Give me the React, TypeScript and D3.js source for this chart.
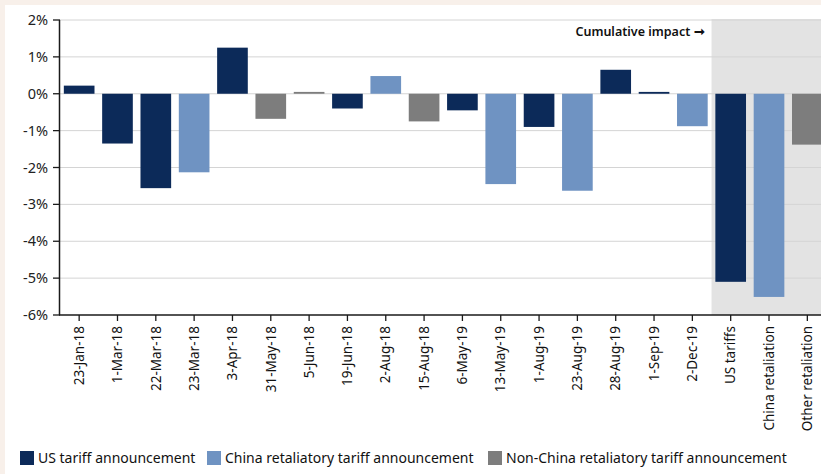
import React from "react";
import * as d3 from "d3";

const categories = [
  "23-Jan-18", "1-Mar-18", "22-Mar-18", "23-Mar-18", "3-Apr-18", "31-May-18",
  "5-Jun-18", "19-Jun-18", "2-Aug-18", "15-Aug-18", "6-May-19", "13-May-19",
  "1-Aug-19", "23-Aug-19", "28-Aug-19", "1-Sep-19", "2-Dec-19",
  "US tariffs", "China retaliation", "Other retaliation",
];
const values = [
  0.22, -1.35, -2.56, -2.13, 1.25, -0.68,
  0.05, -0.4, 0.48, -0.75, -0.45, -2.45,
  -0.9, -2.63, 0.65, 0.05, -0.88,
  -5.1, -5.51, -1.38,
];
const seriesType = [
  "US", "US", "US", "China", "US", "Other",
  "Other", "US", "China", "Other", "US", "China",
  "US", "China", "US", "US", "China",
  "US", "China", "Other",
];
const cumulativeStart = "US tariffs";
const yTicks = [2, 1, 0, -1, -2, -3, -4, -5, -6];
const legendKeys = ["US", "China", "Other"];
const legendLabels = [
  "US tariff announcement",
  "China retaliatory tariff announcement",
  "Non-China retaliatory tariff announcement",
];

const colors: Record<string, string> = {
  US: "#0c2a59",
  China: "#6f93c2",
  Other: "#7d7d7d",
};

const W = 821;
const H = 474;
const FONT = "'Noto Sans', 'Open Sans', sans-serif";

export default function App() {
  const top = 20;
  const bottom = 315;
  const left = 60;
  const y = d3.scaleLinear().domain([-6, 2]).range([bottom, top]);
  const x = d3
    .scaleBand<string>()
    .domain(categories)
    .range([left, 826.5])
    .paddingInner(0.2)
    .paddingOuter(0.1);
  const bw = x.bandwidth();
  const step = x.step();
  const shadeX = (x(cumulativeStart) as number) - (step - bw) / 2;

  const legendX = [20, 207, 488];

  return (
    <svg
      width={W}
      height={H}
      style={{ position: "absolute", left: 0, top: 0, fontFamily: FONT }}
    >
      <rect x={0} y={0} width={W} height={H} fill="#f8f0ea" />
      <rect x={5} y={5} width={W - 5} height={H - 5} fill="#ffffff" />
      <rect x={shadeX} y={top - 1} width={W - shadeX} height={bottom - top + 1} fill="#e3e3e3" />
      {yTicks.filter((t) => t !== -6).map((t) => (
        <line key={"g" + t} x1={left} x2={W} y1={y(t)} y2={y(t)} stroke="#d4d4d4" strokeWidth={1} />
      ))}
      {categories.map((c, i) => {
        const v = values[i];
        const y0 = y(Math.max(0, v));
        const h = Math.abs(y(v) - y(0));
        return (
          <rect
            key={c}
            x={x(c)}
            y={y0}
            width={bw}
            height={Math.max(h, 1.2)}
            fill={colors[seriesType[i]]}
          />
        );
      })}
      <line x1={left - 0.5} x2={left - 0.5} y1={top} y2={bottom} stroke="#1a1a1a" strokeWidth={1.5} />
      <line x1={left - 1} x2={W} y1={bottom} y2={bottom} stroke="#1a1a1a" strokeWidth={1.5} />
      {yTicks.map((t) => (
        <g key={"y" + t}>
          <line x1={left - 7} x2={left} y1={y(t)} y2={y(t)} stroke="#1a1a1a" strokeWidth={1.3} />
          <text x={48} y={y(t)} dy="0.35em" textAnchor="end" fontSize={14.5} fill="#222">
            {t + "%"}
          </text>
        </g>
      ))}
      {categories.map((c) => {
        const cx = (x(c) as number) + bw / 2;
        return (
          <g key={"x" + c}>
            <line x1={cx} x2={cx} y1={bottom} y2={bottom + 6} stroke="#1a1a1a" strokeWidth={1.3} />
            <text
              transform={`translate(${cx},${bottom + 11}) rotate(-90)`}
              textAnchor="end"
              dy="0.35em"
              fontSize={13.5}
              fill="#111"
            >
              {c}
            </text>
          </g>
        );
      })}
      <text x={shadeX - 7} y={36} textAnchor="end" fontSize={12.5} fontWeight={600} fill="#111">
        Cumulative impact ➞
      </text>
      {legendKeys.map((k, i) => (
        <g key={"l" + k}>
          <rect x={legendX[i]} y={451} width={14} height={14} fill={colors[k]} />
          <text x={legendX[i] + 18} y={463} fontSize={14} fill="#111">
            {legendLabels[i]}
          </text>
        </g>
      ))}
    </svg>
  );
}
